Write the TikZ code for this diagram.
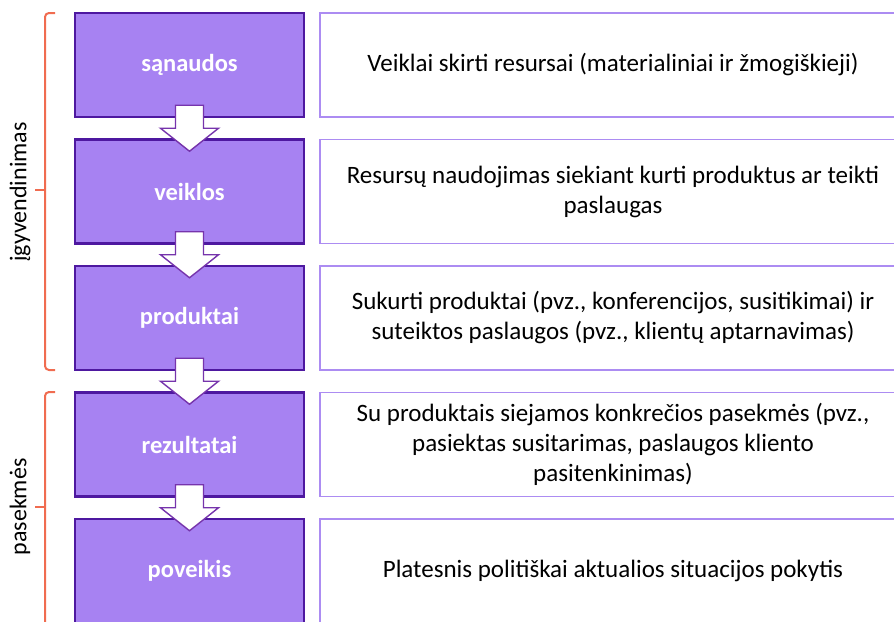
\documentclass[tikz,border=0pt]{standalone}
\usepackage{fontspec}
\setmainfont{Carlito}
\definecolor{stagefill}{RGB}{167,130,242}
\definecolor{stagedraw}{RGB}{78,24,160}
\definecolor{descdraw}{RGB}{172,140,242}
\definecolor{arrowdraw}{RGB}{118,52,172}
\definecolor{bracecol}{RGB}{240,108,80}

\begin{document}
\begin{tikzpicture}[x=1pt, y=-1pt]
\useasboundingbox (0,0) rectangle (894,621);
\tikzstyle{stage}=[draw=stagedraw, line width=2.5pt, fill=stagefill,
                   minimum width=229pt, minimum height=104pt, inner sep=0pt,
                   text=white, font=\fontsize{24.5}{28}\selectfont\bfseries]
\tikzstyle{desc}=[draw=descdraw, line width=1.8pt, fill=white,
                  minimum width=586pt, minimum height=104pt, inner sep=0pt,
                  align=center, font=\fontsize{25}{30}\selectfont]
\tikzstyle{blockarrow}=[draw=arrowdraw, line width=1.4pt, fill=white, line join=miter]
\tikzstyle{bracket}=[draw=bracecol, line width=2pt, rounded corners=4pt]
% stages
\node[stage] (sanaudos) at (189.5,65) {sąnaudos};
\node[stage] (veiklos) at (189.5,191.5) {veiklos};
\node[stage] (produktai) at (189.5,318) {produktai};
\node[stage] (rezultatai) at (189.5,444.5) {rezultatai};
\node[stage] (poveikis) at (189.5,571) {poveikis};
% descriptions
\node[desc] (sanaudosD) at (613,65) {Veiklai skirti resursai (materialiniai ir žmogiškieji)};
\node[desc] (veiklosD) at (613,191.5) {Resursų naudojimas siekiant kurti produktus ar teikti\\ paslaugas};
\node[desc] (produktaiD) at (613,318) {Sukurti produktai (pvz., konferencijos, susitikimai) ir\\ suteiktos paslaugos (pvz., klientų aptarnavimas)};
\node[desc] (rezultataiD) at (613,444.5) {Su produktais siejamos konkrečios pasekmės (pvz.,\\ pasiektas susitarimas, paslaugos kliento\\ pasitenkinimas)};
\node[desc] (poveikisD) at (613,571) {Platesnis politiškai aktualios situacijos pokytis};
% arrows between stages
\foreach \i/\j in {sanaudos/veiklos, veiklos/produktai, produktai/rezultatai, rezultatai/poveikis}{
  \draw[blockarrow] ([xshift=-14pt,yshift=13pt]\i.south) -- ([xshift=-14pt,yshift=-10pt]\i.south)
    -- ([xshift=-29pt,yshift=-10pt]\i.south) -- ([yshift=-13pt]\j.north)
    -- ([xshift=29pt,yshift=-10pt]\i.south) -- ([xshift=14pt,yshift=-10pt]\i.south)
    -- ([xshift=14pt,yshift=13pt]\i.south) -- cycle;}
% brackets
\draw[bracket] (55,13) -- (45,13) -- (45,370) -- (55,370);
\draw[bracket] (45,190) -- (35,190);
\draw[bracket] (55,392) -- (45,392) -- (45,630) -- (55,630);
\draw[bracket] (45,507) -- (35,507);
\node[rotate=90, font=\fontsize{24}{28}\selectfont] (vykdymas) at (20,192) {įgyvendinimas};
\node[rotate=90, font=\fontsize{24}{28}\selectfont] (pasekmes) at (20,507) {pasekmės};
\end{tikzpicture}
\end{document}
